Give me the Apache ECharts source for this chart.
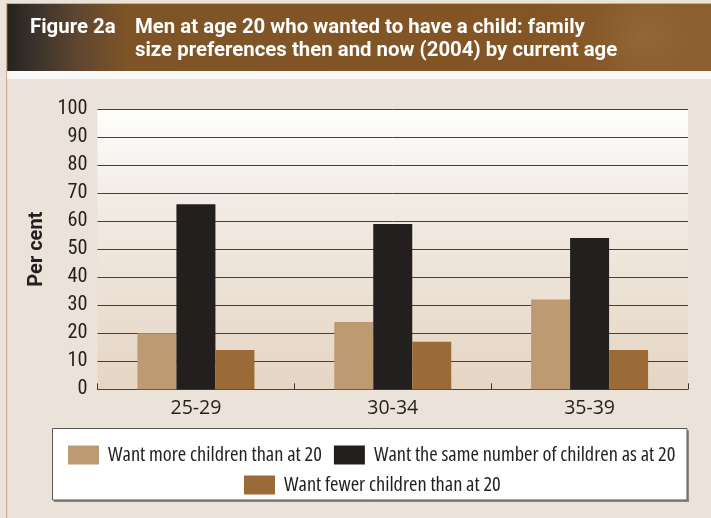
<!DOCTYPE html>
<html>
<head>
<meta charset="utf-8">
<title>Figure 2a</title>
<script src="https://cdn.jsdelivr.net/npm/echarts@6/dist/echarts.min.js"></script>
<style>
  html, body { margin: 0; padding: 0; background: #ebe3da; }
  #chart { width: 711px; height: 518px; }
</style>
</head>
<body>
<div id="chart"></div>
<script>
// Age groups (current age in 2004)
const categories = ['25-29', '30-34', '35-39'];

// Per cent of men, by current preference relative to what they wanted at age 20
const moreChildren = [20, 24, 32];
const sameNumber = [66, 59, 54];
const fewerChildren = [14, 17, 14];

const seriesNames = [
  'Want more children than at 20',
  'Want the same number of children as at 20',
  'Want fewer children than at 20'
];

// Y axis ticks: 0 to 100 every 10
const yMin = 0, yMax = 100, yStep = 10;

const titleLines = [
  'Men at age 20 who wanted to have a child: family',
  'size preferences then and now (2004) by current age'
];

// ---- font selection: a narrow sans whose width and size suit each text block ----
const probe = document.createElement('canvas').getContext('2d');
function measure(font, s) {
  probe.font = '10px serif';
  probe.font = font;
  if (probe.font.indexOf('100px') < 0) return Infinity;
  return probe.measureText(s).width;
}
const families = ["'Liberation Sans Narrow'", "'Roboto Condensed'", "'Open Sans'", "'Noto Sans'",
                  "'Roboto'", "'Liberation Sans'", "'Lato'", "'Inter'"];
const stretches = ['normal', 'semi-condensed', 'condensed', 'extra-condensed'];
function installed(f) {
  const s = 'abcWm1il';
  return measure('100px ' + f + ', serif', s) === measure('100px ' + f + ', monospace', s);
}
const installedFamilies = families.filter(installed);
// Pick family, stretch and size so that `sample` spans `width` px at a size near `target`
function pick(weight, sample, width, target) {
  let best = { family: 'sans-serif', stretch: 'normal', size: target };
  let bestD = Infinity;
  installedFamilies.forEach(function (f) {
    stretches.forEach(function (st) {
      const w = measure(st + ' ' + weight + ' 100px ' + f + ', sans-serif', sample);
      if (!isFinite(w) || w < 50) return;
      const s = 100 * width / w;
      const d = Math.abs(s - target);
      if (d < bestD - 0.3) { bestD = d; best = { family: f + ', sans-serif', stretch: st, size: Math.round(s * 10) / 10 }; }
    });
  });
  best.weight = weight;
  return best;
}
// Same face as `base`, sized so that `sample` spans `width` px
function refit(base, sample, width) {
  const w = measure(base.stretch + ' ' + base.weight + ' 100px ' + base.family, sample);
  return Object.assign({}, base, { size: Math.round(1000 * width / w) / 10 });
}
const legendFont = pick('normal', seriesNames[1], 301, 19.5);
const tickFont = pick('normal', '100', 30, 19.5);
const catFont = pick('normal', '25-29', 51, 19.5);
const headFont = pick('bold', titleLines[0], 450, 20);
const nameFont = refit(headFont, 'Per cent', 75);
function css(p) { return p.stretch + ' ' + p.weight + ' ' + p.size + 'px ' + p.family; }
function ts(p, extra) {
  return Object.assign({ fontFamily: p.family, fontStyle: p.stretch, fontWeight: p.weight, fontSize: p.size, color: '#231f1e' }, extra || {});
}

const colors = ['#be9a73', '#231f1e', '#9a6b37'];

const chart = echarts.init(document.getElementById('chart'), null, { renderer: 'canvas' });

const option = {
  animation: false,
  backgroundColor: '#ebe3da',
  graphic: [
    // page frame: thin top rule and left rule
    { type: 'rect', z: 0, shape: { x: 6, y: 3, width: 705, height: 1 }, style: { fill: '#c9ad8e' } },
    { type: 'rect', z: 0, shape: { x: 6, y: 3, width: 1.2, height: 515 }, style: { fill: '#c9ad8e' } },
    // white strip below the heading
    { type: 'rect', z: 0, shape: { x: 7.2, y: 71, width: 704, height: 8 }, style: { fill: '#fbfaf8' } },
    // heading band
    {
      type: 'rect', z: 1,
      shape: { x: 7.2, y: 4, width: 704, height: 67 },
      style: {
        fill: new echarts.graphic.LinearGradient(0, 0, 1, 0, [
          { offset: 0, color: '#27221f' },
          { offset: 0.04, color: '#3b322b' },
          { offset: 0.1, color: '#5f4630' },
          { offset: 0.17, color: '#7e5427' },
          { offset: 0.75, color: '#845524' },
          { offset: 1, color: '#8d602f' }
        ])
      }
    },
    // faint lighter wash on the right of the heading
    {
      type: 'rect', z: 2,
      shape: { x: 560, y: 4, width: 151, height: 67 },
      style: {
        fill: new echarts.graphic.RadialGradient(0.55, 0.5, 0.8, [
          { offset: 0, color: 'rgba(170,130,85,0.28)' },
          { offset: 1, color: 'rgba(170,130,85,0)' }
        ])
      }
    },
    {
      type: 'text', z: 3, x: 30, y: 28,
      style: { text: 'Figure 2a', fill: '#ffffff', font: css(headFont), verticalAlign: 'middle' }
    },
    {
      type: 'text', z: 3, x: 135, y: 16.5,
      style: { text: titleLines.join('\n'), fill: '#ffffff', font: css(headFont), lineHeight: 23 }
    },
    // legend box with a soft drop edge
    { type: 'rect', z: 1, shape: { x: 54, y: 430.5, width: 635, height: 71.5 }, style: { fill: '#8d8884' } },
    { type: 'rect', z: 2, shape: { x: 52.5, y: 428.5, width: 634.5, height: 71.5 }, style: { fill: '#ffffff', stroke: '#5a5653', lineWidth: 1 } }
  ],
  grid: {
    left: 97.5, right: 23, top: 109, bottom: 128.7,
    show: true, borderWidth: 0,
    backgroundColor: new echarts.graphic.LinearGradient(0, 0, 0, 1, [
      { offset: 0, color: '#fefefd' },
      { offset: 0.3, color: '#f3ede7' },
      { offset: 1, color: '#e5d5c3' }
    ])
  },
  legend: [
    {
      z: 5,
      data: seriesNames.slice(0, 2),
      left: 63, top: 440, width: 640,
      itemWidth: 31, itemHeight: 19, itemGap: 12,
      icon: 'rect',
      textStyle: ts(legendFont, { padding: [0, 0, 0, 4] }),
      selectedMode: false
    },
    {
      z: 5,
      data: seriesNames.slice(2),
      left: 239, top: 470, width: 640,
      itemWidth: 31, itemHeight: 19,
      icon: 'rect',
      textStyle: ts(legendFont, { padding: [0, 0, 0, 4] }),
      selectedMode: false
    }
  ],
  xAxis: {
    type: 'category',
    data: categories,
    boundaryGap: true,
    axisLine: { show: true, lineStyle: { color: '#4a4542', width: 1 } },
    axisTick: { show: true, inside: true, length: 6, alignWithLabel: false, lineStyle: { color: '#3a3633' } },
    axisLabel: ts(catFont, { margin: 9 })
  },
  yAxis: {
    type: 'value',
    min: yMin, max: yMax, interval: yStep,
    name: 'Per cent',
    nameLocation: 'middle',
    nameRotate: 90,
    nameGap: 51,
    nameTextStyle: ts(nameFont),
    axisLine: { show: false },
    axisTick: { show: false },
    axisLabel: ts(tickFont, { margin: 10 }),
    splitLine: { show: true, lineStyle: { color: '#45403d', width: 1 } }
  },
  series: [
    { name: seriesNames[0], type: 'bar', data: moreChildren, barWidth: 39, barGap: '0%', itemStyle: { color: colors[0] } },
    { name: seriesNames[1], type: 'bar', data: sameNumber, barWidth: 39, barGap: '0%', itemStyle: { color: colors[1] } },
    { name: seriesNames[2], type: 'bar', data: fewerChildren, barWidth: 39, barGap: '0%', itemStyle: { color: colors[2] } }
  ]
};

chart.setOption(option);
</script>
</body>
</html>
